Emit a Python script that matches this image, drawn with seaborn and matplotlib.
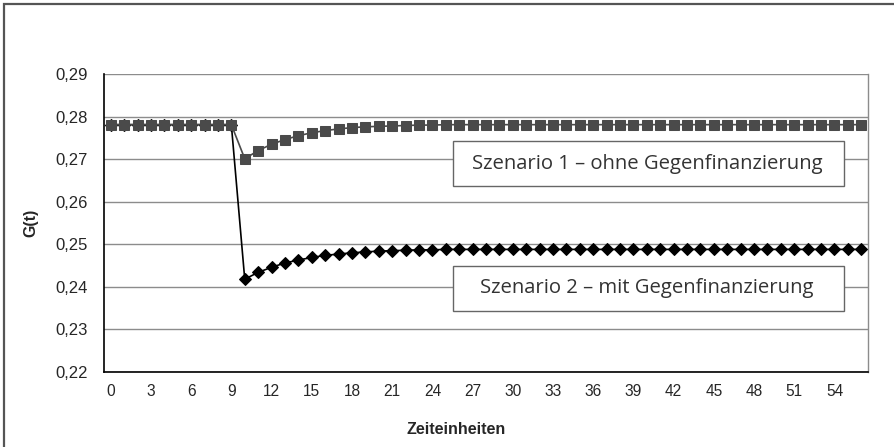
import numpy as np
import pandas as pd
import seaborn as sns
import matplotlib.pyplot as plt
from matplotlib.patches import Rectangle

# Zeit 0..56
t = list(range(57))

# Szenario 1 - ohne Gegenfinanzierung
g1 = [0.2781] * 10 + [0.2701, 0.2720, 0.2735, 0.2746, 0.2755, 0.2762, 0.2767, 0.2771,
                      0.2774, 0.2776, 0.2777, 0.2778, 0.2779, 0.2780, 0.2780] + [0.2781] * 32
# Szenario 2 - mit Gegenfinanzierung
g2 = [0.2781] * 10 + [0.2418, 0.2434, 0.2446, 0.2456, 0.2463, 0.2469, 0.2474, 0.2477,
                      0.2480, 0.2482, 0.2484, 0.2485, 0.2486, 0.2487, 0.2487] + [0.2488] * 32

labels = ["Szenario 1 – ohne Gegenfinanzierung", "Szenario 2 – mit Gegenfinanzierung"]
yticks = [0.22, 0.23, 0.24, 0.25, 0.26, 0.27, 0.28, 0.29]
xticks = list(range(0, 57, 3))

df = pd.DataFrame({"t": t, "s1": g1, "s2": g2})

sns.set_style("white")
plt.rcParams['font.family'] = ['Liberation Sans', 'DejaVu Sans']

W, H = 895, 447
fig = plt.figure(figsize=(W / 100, H / 100), dpi=100)
ax = fig.add_axes([104 / W, 1 - 372 / H, (868 - 104) / W, (372 - 74) / H])

sns.lineplot(data=df, x="t", y="s2", ax=ax, color="black", lw=1.2, marker="D",
             markersize=6.5, markeredgecolor="black", zorder=3)
sns.lineplot(data=df, x="t", y="s1", ax=ax, color="#4a4a4a", lw=1.2, marker="s",
             markersize=6.8, markeredgecolor="#4a4a4a", zorder=4)

ax.set_xlim(-0.5, 56.5)
ax.set_ylim(0.22, 0.29)
ax.set_yticks(yticks)
ax.set_yticklabels([f"{v:.2f}".replace(".", ",") for v in yticks], fontsize=12)
ax.set_xticks(xticks)
ax.set_xticklabels([str(v) for v in xticks], fontsize=11.2)
ax.set_xticks(np.arange(-0.5, 57, 1), minor=True)
ax.tick_params(axis="x", which="major", length=0, pad=9)
ax.tick_params(axis="x", which="minor", length=4, color="#555555", direction="out")
ax.tick_params(axis="y", length=5, color="#555555", direction="out", pad=6.5)
ax.yaxis.grid(True, color="#8c8c8c", lw=1)
ax.set_axisbelow(True)

for s in ["left", "bottom"]:
    ax.spines[s].set_color("black")
    ax.spines[s].set_linewidth(1.2)
ax.spines["top"].set_visible(False)
ax.spines["right"].set_color("#8c8c8c")
ax.spines["right"].set_linewidth(1)

ax.set_xlabel("Zeiteinheiten", fontsize=11.5, fontweight="bold")
ax.xaxis.set_label_coords((456 - 104) / 764, -(429 - 372) / 298)
ax.xaxis.label.set_va("center")
ax.set_ylabel("G(t)", fontsize=11.5, fontweight="bold")
ax.yaxis.set_label_coords(-(104 - 31) / 764, 0.5)
ax.yaxis.label.set_va("center")

# Beschriftungsboxen
for (y0, y1), txt in zip([(141, 186), (266, 311)], labels):
    fig.add_artist(Rectangle((453 / W, 1 - y1 / H), (844 - 453) / W, (y1 - y0) / H,
                             transform=fig.transFigure, facecolor="white",
                             edgecolor="#666666", lw=1, zorder=5))
    fig.text(647 / W, 1 - (y0 + y1) / 2 / H, txt, ha="center", va="center",
             fontsize=14.6, color="#333333", family=["Open Sans", "DejaVu Sans"], zorder=6)

# Rahmen
fig.add_artist(Rectangle((4.5 / W, -0.1), 2, 1 - 3.5 / H + 0.1, transform=fig.transFigure,
                         facecolor="none", edgecolor="#555555", lw=1.6))

fig.savefig("out.png", dpi=100)
